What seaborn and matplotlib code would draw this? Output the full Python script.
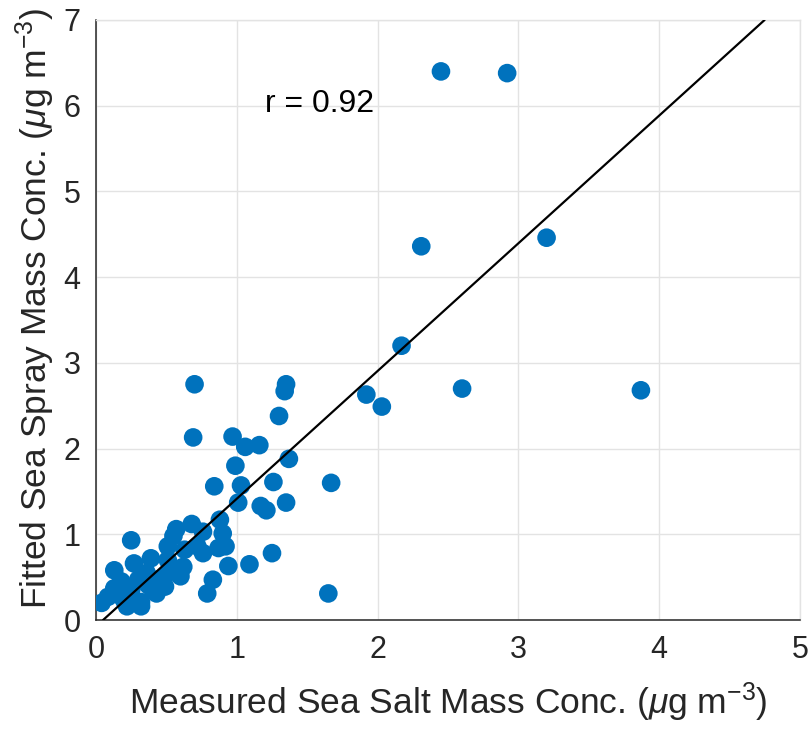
import numpy as np
import pandas as pd
import matplotlib
matplotlib.use("Agg")
import matplotlib.pyplot as plt
import seaborn as sns

# measured sea salt (x) vs fitted sea spray (y), ug m-3
measured = [2.45, 2.92, 2.31, 3.20, 2.17, 1.92, 2.03, 2.60, 3.87, 0.70,
            1.35, 1.34, 1.30, 0.69, 0.97, 1.06, 1.16, 1.37, 0.99, 0.84,
            1.03, 1.26, 1.67, 1.01, 1.35, 1.17, 1.21, 1.65, 1.25, 1.09,
            0.94, 0.88, 0.68, 0.57, 0.76, 0.90, 0.55, 0.92, 0.87, 0.72,
            0.76, 0.63, 0.51, 0.83, 0.79, 0.25, 0.39, 0.27, 0.13, 0.62,
            0.51, 0.60, 0.51, 0.44, 0.36, 0.37, 0.30, 0.18, 0.49, 0.43,
            0.25, 0.13, 0.04, 0.085, 0.20, 0.32, 0.22, 0.32, 0.15, 0.40,
            0.56]
fitted = [6.40, 6.38, 4.36, 4.46, 3.20, 2.63, 2.49, 2.70, 2.68, 2.75,
          2.75, 2.67, 2.38, 2.13, 2.14, 2.02, 2.04, 1.88, 1.80, 1.56,
          1.57, 1.61, 1.60, 1.37, 1.37, 1.33, 1.28, 0.31, 0.78, 0.65,
          0.63, 1.17, 1.12, 1.06, 1.03, 1.01, 0.98, 0.86, 0.84, 0.86,
          0.78, 0.82, 0.86, 0.47, 0.31, 0.93, 0.72, 0.66, 0.58, 0.62,
          0.70, 0.51, 0.55, 0.47, 0.55, 0.41, 0.47, 0.45, 0.39, 0.31,
          0.35, 0.37, 0.20, 0.27, 0.23, 0.21, 0.16, 0.16, 0.30, 0.36,
          0.60]

# regression line shown in the figure
fit_slope = 1.49
fit_intercept = -0.075
r_value = 0.92

df = pd.DataFrame({"measured": measured, "fitted": fitted})

sns.set_style("white")
plt.rcParams["font.family"] = ["Liberation Sans", "DejaVu Sans"]
plt.rcParams["mathtext.fontset"] = "custom"
plt.rcParams["mathtext.rm"] = "Liberation Sans"
plt.rcParams["mathtext.it"] = "Liberation Sans:italic"

dark = "#262626"

fig, ax = plt.subplots(figsize=(8.1, 7.29), dpi=100)
fig.subplots_adjust(left=0.1185, right=0.9877, top=0.9726, bottom=0.1495)

sns.scatterplot(data=df, x="measured", y="fitted", ax=ax, color="#0072BD",
                s=180, edgecolor="none", linewidth=0, zorder=3)
ax.axline((0, fit_intercept), slope=fit_slope, color="black", linewidth=1.6, zorder=4)

ax.text(1.2, 6.02, f"r = {r_value}", fontsize=23, color="black", va="center", ha="left")

ax.set_xlim(0, 5)
ax.set_ylim(0, 7)
ax.set_xticks(range(0, 6))
ax.set_yticks(range(0, 8))
ax.grid(True, color="#e3e3e3", linewidth=1)
ax.set_axisbelow(True)

for side in ["left", "bottom"]:
    ax.spines[side].set_color(dark)
    ax.spines[side].set_linewidth(1.1)
for side in ["top", "right"]:
    ax.spines[side].set_color("#e3e3e3")
    ax.spines[side].set_linewidth(1)

ax.tick_params(axis="both", direction="in", length=6, width=1, colors=dark,
               labelsize=22, pad=11)
ax.set_xlabel(r"Measured Sea Salt Mass Conc. ($\mu$g m$^{-3}$)", fontsize=25.5, color=dark)
ax.set_ylabel(r"Fitted Sea Spray Mass Conc. ($\mu$g m$^{-3}$)", fontsize=25.5, color=dark)
ax.xaxis.set_label_coords(0.5, -0.1)
ax.yaxis.set_label_coords(-0.056, 0.52)

fig.savefig("out.png", dpi=100)
